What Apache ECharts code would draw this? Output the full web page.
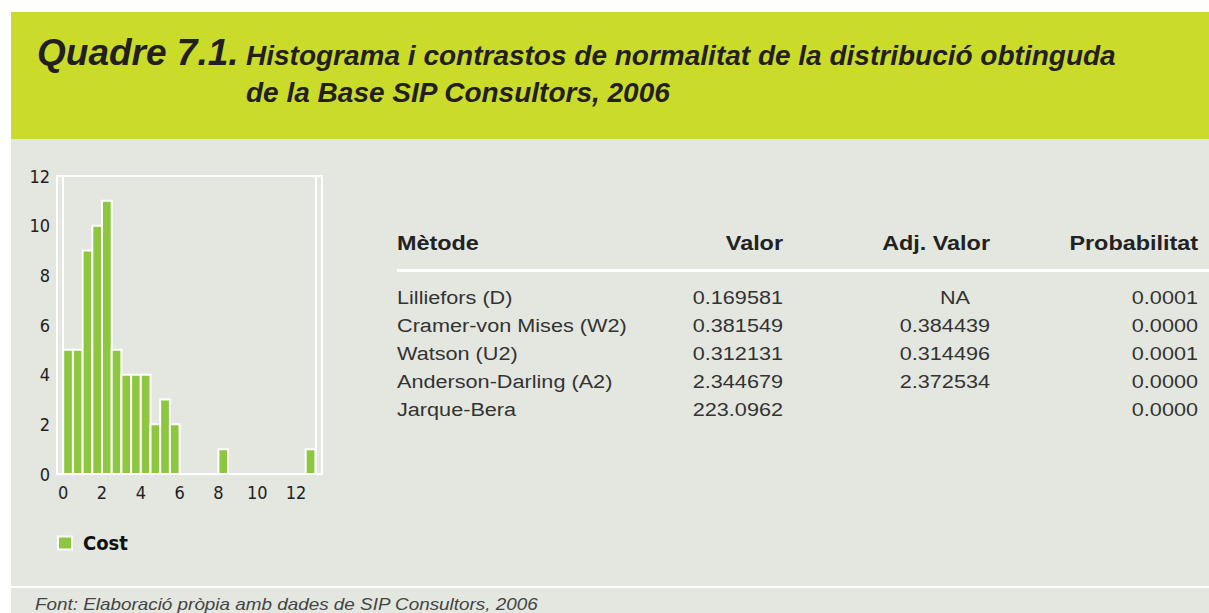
<!DOCTYPE html>
<html>
<head>
<meta charset="utf-8">
<script src="https://cdn.jsdelivr.net/npm/echarts@6/dist/echarts.min.js"></script>
<style>
  html, body { margin: 0; padding: 0; background: #ffffff; }
  #chart { width: 1209px; height: 613px; }
</style>
</head>
<body>
<div id="chart"></div>
<script>
// ---- Data ----
const titleLead = 'Quadre 7.1.';
const titleLine1 = 'Histograma i contrastos de normalitat de la distribució obtinguda';
const titleLine2 = 'de la Base SIP Consultors, 2006';
const footerText = 'Font: Elaboració pròpia amb dades de SIP Consultors, 2006';

const seriesName = 'Cost';
const binLow  = [0, 0.5, 1, 1.5, 2, 2.5, 3, 3.5, 4, 4.5, 5, 5.5, 6, 6.5, 7, 7.5, 8, 8.5, 9, 9.5, 10, 10.5, 11, 11.5, 12, 12.5];
const binHigh = [0.5, 1, 1.5, 2, 2.5, 3, 3.5, 4, 4.5, 5, 5.5, 6, 6.5, 7, 7.5, 8, 8.5, 9, 9.5, 10, 10.5, 11, 11.5, 12, 12.5, 13];
const counts  = [5, 5, 9, 10, 11, 5, 4, 4, 4, 2, 3, 2, 0, 0, 0, 0, 1, 0, 0, 0, 0, 0, 0, 0, 0, 1];
const xTickLabels = [0, 2, 4, 6, 8, 10, 12];

const tableHeaders = ['Mètode', 'Valor', 'Adj. Valor', 'Probabilitat'];
const methods   = ['Lilliefors (D)', 'Cramer-von Mises (W2)', 'Watson (U2)', 'Anderson-Darling (A2)', 'Jarque-Bera'];
const values    = ['0.169581', '0.381549', '0.312131', '2.344679', '223.0962'];
const adjValues = ['NA', '0.384439', '0.314496', '2.372534', ''];
const probs     = ['0.0001', '0.0000', '0.0001', '0.0000', '0.0000'];

// ---- Styles ----
const GREEN_BAND = '#cbdb29';
const PANEL = '#e3e7e0';
const BAR = '#8dc63f';
const narrow = "'Liberation Sans Narrow', 'DejaVu Sans Condensed', 'Liberation Sans', sans-serif";
const sans = "'Liberation Sans', Arial, sans-serif";
const SX_HEAD = 1.2;
const SX_BODY = 1.14;

const histData = binLow.map((lo, i) => [lo, binHigh[i], counts[i]]);

function txt(text, x, y, opt) {
  opt = opt || {};
  return {
    type: 'text', x: x, y: y, z: 50,
    scaleX: opt.scaleX || 1, originX: 0, originY: 0,
    style: {
      text: text,
      fill: opt.color || '#333',
      fontFamily: opt.family || sans,
      fontSize: opt.size || 19,
      fontWeight: opt.weight || 'normal',
      fontStyle: opt.style || 'normal',
      textAlign: opt.align || 'left', align: opt.align || 'left',
      textVerticalAlign: 'middle', verticalAlign: 'middle'
    }
  };
}

const graphics = [
  { type: 'rect', z: -100, shape: { x: 11, y: 12, width: 1198, height: 127 }, style: { fill: GREEN_BAND } },
  { type: 'rect', z: -100, shape: { x: 11, y: 139, width: 1198, height: 447 }, style: { fill: PANEL } },
  { type: 'rect', z: -100, shape: { x: 11, y: 588, width: 1198, height: 25 }, style: { fill: PANEL } },
  { type: 'rect', z: 10, shape: { x: 397, y: 269, width: 812, height: 3 }, style: { fill: '#ffffff' } },
  txt(titleLead, 37, 52, { size: 37, weight: 'bold', style: 'italic', color: '#231f20' }),
  txt(titleLine1, 246, 55, { size: 28, weight: 'bold', style: 'italic', color: '#231f20' }),
  txt(titleLine2, 246, 92, { size: 28, weight: 'bold', style: 'italic', color: '#231f20' }),
  txt(footerText, 35, 605, { size: 16, style: 'italic', color: '#444', scaleX: 1.18 })
];

// table
const colX = [397, 783, 990, 1198];
const colAlign = ['left', 'right', 'right', 'right'];
tableHeaders.forEach((h, c) => {
  graphics.push(txt(h, colX[c], 244, { size: 19.5, weight: 'bold', color: '#222', align: colAlign[c], scaleX: SX_HEAD }));
});
methods.forEach((m, i) => {
  const y = 297.5 + i * 28;
  graphics.push(txt(m, colX[0], y, { size: 19, color: '#333', scaleX: SX_BODY }));
  graphics.push(txt(values[i], colX[1], y, { size: 19, color: '#333', align: 'right', scaleX: SX_BODY }));
  if (adjValues[i]) {
    const ax = adjValues[i] === 'NA' ? 970 : colX[2];
    graphics.push(txt(adjValues[i], ax, y, { size: 19, color: '#333', align: 'right', scaleX: SX_BODY }));
  }
  graphics.push(txt(probs[i], colX[3], y, { size: 19, color: '#333', align: 'right', scaleX: SX_BODY }));
});

const chart = echarts.init(document.getElementById('chart'), null, { renderer: 'svg' });
chart.setOption({
  backgroundColor: '#ffffff',
  animation: false,
  graphic: graphics,
  grid: {
    left: 57, top: 176, width: 265, height: 298,
    show: true, backgroundColor: 'transparent', borderColor: '#ffffff', borderWidth: 2
  },
  legend: {
    left: 57, top: 533, padding: 0,
    icon: 'rect', itemWidth: 14, itemHeight: 13,
    itemStyle: { color: BAR, borderColor: '#ffffff', borderWidth: 2 },
    textStyle: { fontFamily: narrow, fontWeight: 'bold', fontSize: 20, color: '#111', padding: [0, 0, 0, 6] },
    data: [seriesName]
  },
  xAxis: {
    type: 'value', min: -0.32, max: 13.34,
    axisLine: { show: false }, axisTick: { show: false }, splitLine: { show: false },
    axisLabel: { customValues: xTickLabels, fontFamily: narrow, fontSize: 18, color: '#222', margin: 9 }
  },
  yAxis: {
    type: 'value', min: 0, max: 12, interval: 2,
    axisLine: { show: false }, axisTick: { show: false }, splitLine: { show: false },
    axisLabel: { fontFamily: narrow, fontSize: 18, color: '#222', margin: 7 }
  },
  series: [{
    name: seriesName,
    type: 'custom',
    itemStyle: { color: BAR, borderColor: '#ffffff', borderWidth: 2 },
    encode: { x: [0, 1], y: 2 },
    data: histData,
    renderItem: function (params, api) {
      const v = api.value(2);
      if (!v) return null;
      const p0 = api.coord([api.value(0), v]);
      const p1 = api.coord([api.value(1), 0]);
      return {
        type: 'rect',
        shape: { x: p0[0], y: p0[1], width: p1[0] - p0[0], height: p1[1] - p0[1] },
        style: { fill: BAR, stroke: '#ffffff', lineWidth: 2 }
      };
    },
    markLine: {
      silent: true, symbol: 'none', label: { show: false },
      lineStyle: { color: '#ffffff', width: 2, type: 'solid' },
      data: [{ xAxis: 0 }, { xAxis: 13 }]
    }
  }]
});
</script>
</body>
</html>
